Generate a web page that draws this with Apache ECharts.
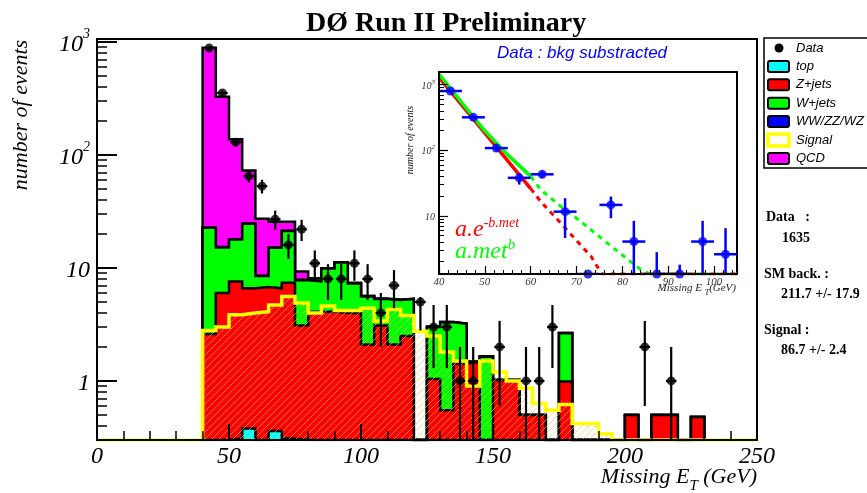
<!DOCTYPE html>
<html>
<head>
<meta charset="utf-8">
<title>DØ Run II Preliminary</title>
<script src="https://cdn.jsdelivr.net/npm/echarts@6/dist/echarts.min.js"></script>
<style>
html,body{margin:0;padding:0;background:#ffffff;}
#chart{width:867px;height:493px;}
</style>
</head>
<body>
<div id="chart"></div>
<script>
// ================= DATA =================
// Main plot: 5 GeV bins of missing E_T, lower edges + last upper edge
const binEdges = [40,45,50,55,60,65,70,75,80,85,90,95,100,105,110,115,120,125,130,135,140,145,150,155,160,165,170,175,180,185,190,195,200,205,210,215,220,225,230];
// Per-process expected events per bin (stack order: top, Z+jets, W+jets, WW/ZZ/WZ, QCD)
const topBkg    = [0,0,0.31,0.38,0,0.36,0.31,0,0,0,0,0,0,0,0,0,0,0,0,0,0,0,0,0,0,0,0,0,0,0,0,0,0,0,0,0,0,0];
const zJets     = [2.6,6.0,7.29,6.22,6.8,6.24,7.09,3.1,4.1,4.1,4.0,4.0,2.1,3.1,2.1,2.5,0,1.04,0.55,1.43,1.48,0,1.02,1.02,0.5,0.5,0,0.99,0,0,0,0,0.5,0,0.5,0.5,0,0.48];
const wJets     = [20.1,9.2,10.3,18.0,1.7,8.5,13.9,4.7,3.5,5.8,7.2,3.3,3.5,2.2,3.1,2.8,0,1.96,2.75,1.77,0,1.64,0,0,0,0,0,1.65,0,0,0,0,0,0,0,0,0,0];
const dibosons  = [0.15,0.1,0.1,0.15,0.05,0.1,0.1,0.05,0.05,0.05,0.05,0.05,0.05,0.03,0.03,0.03,0,0.02,0.02,0.02,0,0.01,0,0,0,0,0,0.01,0,0,0,0,0,0,0,0,0,0];
const qcdBkg    = [867,313,120,48,18.7,10.5,4.3,1.45,0.45,0,0,0,0,0,0,0,0,0,0,0,0,0,0,0,0,0,0,0,0,0,0,0,0,0,0,0,0,0];
const signalMC  = [2.8,3.0,3.85,4.0,4.1,4.7,5.6,4.9,4.0,4.6,4.2,4.2,4.4,3.4,4.3,3.8,2.75,2.5,1.8,1.5,0.9,1.5,1.2,1.0,0.86,0.63,0.55,0.62,0.42,0.42,0.34,0,0,0,0,0,0,0];

// Data points: bin centres, counts, error half-heights
const dataMet    = [42.5,47.5,52.5,57.5,62.5,67.5,72.5,77.5,82.5,87.5,92.5,97.5,102.5,107.5,112.5,122.5,127.5,132.5,137.5,142.5,152.5,162.5,167.5,172.5,207.5,217.5];
const dataCounts = [885,354,130,65,53,27,16,22,11,8,8,11,8,4,7,5,3,3,1,1,2,1,1,3,2,1];
const dataErrors = [30,19,11.4,8,7.3,5.2,4,4.7,3.3,2.8,2.8,3.3,2.8,2,2.6,2.2,1.7,1.7,1,1,1.4,1,1,1.7,1.4,1];
const dataMetHalfErr = 2;

// Inset: background-subtracted data
const insetMet    = [42.5,47.5,52.5,57.5,62.5,67.5,72.5,77.5,82.5,87.5,92.5,97.5,102.5];
const insetCounts = [800,318,108,38,43,11.6,0,14.7,4.06,0,0,4.06,2.6];
const insetUpper  = [830,338,120,45,48,18.6,0,19.7,8.4,2.8,1.8,8.4,6.5];
const insetLower  = [770,298,96,30,38,4.6,0,9.2,0,0,0,0,0];
const insetMetHalfErr = 2.5;

// Fit curves
const expFitSolid  = [[40,1290],[60,26]];
const expFitDashed = [[60,26],[62.2,16.5],[65.9,8.7],[69.5,4.6],[73.2,2.4],[75.5,1.3],[105,1.3]];
const powFitSolid  = [[40,1456],[45,530],[50,198],[55,85],[60,40]];
const powFitDashed = [[60,40],[62.2,25],[66.6,13.9],[69.5,9.8],[73.2,6.1],[76.8,3.8],[80.4,2.4],[84.1,1.5],[86,1.3],[105,1.3]];

// Tick values
const mainYMajor  = [1,10,100,1000];
const mainYMinor  = [0.3,0.4,0.5,0.6,0.7,0.8,0.9,2,3,4,5,6,7,8,9,20,30,40,50,60,70,80,90,200,300,400,500,600,700,800,900];
const insetYMajor = [10,100,1000];
const insetYMinor = [2,3,4,5,6,7,8,9,20,30,40,50,60,70,80,90,200,300,400,500,600,700,800,900];

// Legend and summary text
const legendNames = ['Data','top','Z+jets','W+jets','WW/ZZ/WZ','Signal','QCD'];
const summaryLines = ['Data   :','1635','SM back. :','211.7 +/- 17.9','Signal :','86.7 +/- 2.4'];

// ================= BUILD =================
const Y_MIN = 0.3, Y_MAX = 1064, X_MIN = 0, X_MAX = 250;
const IN_Y_MIN = 1.3, IN_Y_MAX = 1560;
const SERIF = '"Liberation Serif", "DejaVu Serif", serif';
const SANS = '"Liberation Sans", Arial, sans-serif';

function addArrays(...arrs) {
  return arrs[0].map((_, i) => arrs.reduce((s, a) => s + a[i], 0));
}
const cumTop = topBkg.slice();
const cumZ = addArrays(topBkg, zJets);
const cumW = addArrays(topBkg, zJets, wJets);
const cumWW = addArrays(topBkg, zJets, wJets, dibosons);
const cumQCD = addArrays(topBkg, zJets, wJets, dibosons, qcdBkg);

function histPoints(vals, floor) {
  const pts = [[binEdges[0], floor]];
  vals.forEach((v, i) => pts.push([binEdges[i], Math.max(v, floor)]));
  pts.push([binEdges[vals.length], floor]);
  return pts;
}

function makeHatch() {
  const c = document.createElement('canvas');
  c.width = 7; c.height = 7;
  const g = c.getContext('2d');
  g.strokeStyle = 'rgba(255,205,70,0.6)';
  g.lineWidth = 1;
  g.beginPath();
  g.moveTo(0, 7); g.lineTo(7, 0);
  g.moveTo(-2, 2); g.lineTo(2, -2);
  g.moveTo(5, 9); g.lineTo(9, 5);
  g.stroke();
  return c;
}
const hatch = makeHatch();

function stackSeries(name, vals, color, z) {
  return {
    name: name, type: 'line', xAxisIndex: 0, yAxisIndex: 0, step: 'end',
    symbol: 'none', data: histPoints(vals, Y_MIN), z: z, clip: true,
    lineStyle: { color: '#000', width: 2.5, join: 'miter' },
    areaStyle: { color: color, opacity: 1, origin: 'start' },
    silent: true
  };
}

const signalPts = [[X_MIN, Y_MIN]].concat(histPoints(signalMC, Y_MIN)).concat([[X_MAX, Y_MIN]]);

function errRender(color, width) {
  return function (params, api) {
    const x = api.value(0), y = api.value(1), lo = api.value(2), hi = api.value(3), xl = api.value(4), xh = api.value(5);
    const pLo = api.coord([x, lo]), pHi = api.coord([x, hi]);
    const pL = api.coord([xl, y]), pR = api.coord([xh, y]);
    const st = { stroke: color, lineWidth: width };
    const children = [{ type: 'line', shape: { x1: pL[0], y1: pL[1], x2: pR[0], y2: pR[1] }, style: st }];
    if (hi > lo) children.push({ type: 'line', shape: { x1: pLo[0], y1: pLo[1], x2: pHi[0], y2: pHi[1] }, style: st });
    return { type: 'group', children: children };
  };
}

const mainErrData = dataMet.map((x, i) => [
  x, dataCounts[i],
  Math.max(dataCounts[i] - dataErrors[i], Y_MIN),
  dataCounts[i] + dataErrors[i],
  x - dataMetHalfErr, x + dataMetHalfErr
]);
const insetErrData = insetMet.map((x, i) => [
  x, Math.max(insetCounts[i], IN_Y_MIN),
  Math.max(insetLower[i], IN_Y_MIN),
  Math.max(insetUpper[i], IN_Y_MIN),
  x - insetMetHalfErr, x + insetMetHalfErr
]);

function powLabel(v) {
  const e = Math.round(Math.log10(v));
  if (e === 0) return '{b|1}';
  if (e === 1) return '{b|10}';
  return '{b|10}{s|' + e + '}';
}

function fitLine(data, color, dashed, z) {
  return {
    type: 'line', xAxisIndex: 1, yAxisIndex: 2, data: data, symbol: 'none', z: z, clip: true,
    lineStyle: { color: color, width: dashed ? 3 : 3.5, type: dashed ? [5, 5] : 'solid' }, silent: true
  };
}

// Legend graphic
const legendColors = {
  'top': '#00ffff', 'Z+jets': '#ff0000', 'W+jets': '#00ff00', 'WW/ZZ/WZ': '#0000ff', 'QCD': '#ff00ff'
};
const legendGraphic = [{
  type: 'rect', z: 40, shape: { x: 764, y: 38, width: 112, height: 130 },
  style: { fill: '#fff', stroke: '#000', lineWidth: 1.5 }
}];
legendNames.forEach((nm, i) => {
  const cy = 48 + i * 18.4;
  if (nm === 'Data') {
    legendGraphic.push({ type: 'circle', z: 41, shape: { cx: 779, cy: cy, r: 4.5 }, style: { fill: '#000' } });
  } else if (nm === 'Signal') {
    legendGraphic.push({ type: 'rect', z: 41, shape: { x: 768, y: cy - 6, width: 21, height: 12 },
      style: { fill: '#fff', stroke: '#ffff00', lineWidth: 3.5 } });
  } else {
    legendGraphic.push({ type: 'rect', z: 41, shape: { x: 768, y: cy - 5.5, width: 21, height: 11, r: 2 },
      style: { fill: legendColors[nm], stroke: '#000', lineWidth: 2 } });
  }
  legendGraphic.push({ type: 'text', z: 41, x: 796, y: cy,
    style: { text: nm, fontFamily: SANS, fontStyle: 'italic', fontSize: 13, fill: '#000', align: 'left', verticalAlign: 'middle' } });
});

const summaryPos = [[766, 217], [782, 238], [764, 274], [781, 294], [764, 330], [781, 350]];
const summaryGraphic = summaryLines.map((t, i) => ({
  type: 'text', z: 41, x: summaryPos[i][0], y: summaryPos[i][1],
  style: { text: t, fontFamily: SERIF, fontWeight: 'bold', fontSize: 14, fill: '#000', align: 'left', verticalAlign: 'middle' }
}));

const otherGraphic = [
  // inset pad background
  { type: 'rect', z: 15, shape: { x: 404, y: 40, width: 346, height: 257 }, style: { fill: '#fff' } },
  { type: 'text', z: 30, x: 582, y: 53,
    style: { text: 'Data : bkg substracted', fontFamily: SANS, fontStyle: 'italic', fontSize: 17, fill: '#0000ff', align: 'center', verticalAlign: 'middle' } },
  { type: 'text', z: 30, x: 455, y: 216,
    style: { text: '{m|a.e}{s|-b.met}', align: 'left', verticalAlign: 'top',
      rich: {
        m: { fontFamily: SERIF, fontStyle: 'italic', fontSize: 24, lineHeight: 26, verticalAlign: 'bottom', fill: '#ff0000' },
        s: { fontFamily: SERIF, fontStyle: 'italic', fontSize: 14, lineHeight: 12, verticalAlign: 'top', fill: '#ff0000' }
      } } },
  { type: 'text', z: 30, x: 455, y: 238,
    style: { text: '{m|a.met}{s|b}', align: 'left', verticalAlign: 'top',
      rich: {
        m: { fontFamily: SERIF, fontStyle: 'italic', fontSize: 24, lineHeight: 26, verticalAlign: 'bottom', fill: '#00ff00' },
        s: { fontFamily: SERIF, fontStyle: 'italic', fontSize: 15, lineHeight: 12, verticalAlign: 'top', fill: '#00ff00' }
      } } },
  { type: 'text', z: 30, x: 736, y: 283,
    style: { text: '{m|Missing E }{t|T}{m|(GeV)}', align: 'right', verticalAlign: 'top',
      rich: {
        m: { fontFamily: SERIF, fontStyle: 'italic', fontSize: 11, lineHeight: 11, verticalAlign: 'top', fill: '#222' },
        t: { fontFamily: SERIF, fontStyle: 'italic', fontSize: 8, padding: [6, 0, 0, 0], verticalAlign: 'top', fill: '#222' }
      } } },
  { type: 'text', z: 30, x: 410, y: 140, rotation: Math.PI / 2,
    style: { text: 'number of events', fontFamily: SERIF, fontStyle: 'italic', fontSize: 10, fill: '#222', align: 'center', verticalAlign: 'middle' } },
  // main axis titles
  { type: 'text', z: 30, x: 21, y: 115, rotation: Math.PI / 2,
    style: { text: 'number of events', fontFamily: SERIF, fontStyle: 'italic', fontSize: 22, fill: '#000', align: 'center', verticalAlign: 'middle' } },
  { type: 'text', z: 30, x: 757, y: 466,
    style: { text: '{m|Missing E}{t|T}{m| (GeV)}', align: 'right', verticalAlign: 'top',
      rich: {
        m: { fontFamily: SERIF, fontStyle: 'italic', fontSize: 22, lineHeight: 22, verticalAlign: 'top', fill: '#000' },
        t: { fontFamily: SERIF, fontStyle: 'italic', fontSize: 15, padding: [13, 0, 0, 0], verticalAlign: 'top', fill: '#000' }
      } } }
];

const option = {
  animation: false,
  backgroundColor: '#ffffff',
  title: {
    text: 'DØ Run II Preliminary', left: 301, top: 5,
    textStyle: { fontFamily: SERIF, fontWeight: 'bold', fontSize: 28, color: '#000' }
  },
  grid: [
    { left: 97, top: 39, width: 660, height: 401, show: true, borderColor: '#000', borderWidth: 2, backgroundColor: 'transparent', containLabel: false },
    { left: 439, top: 72, width: 298, height: 202, show: true, borderColor: '#000', borderWidth: 2, backgroundColor: '#fff', containLabel: false, z: 20 }
  ],
  xAxis: [
    { type: 'value', gridIndex: 0, min: X_MIN, max: X_MAX, interval: 50, z: 10,
      axisLine: { onZero: false, lineStyle: { color: '#000', width: 2 } },
      axisTick: { inside: true, length: 16, lineStyle: { color: '#000', width: 2 } },
      minorTick: { show: true, splitNumber: 5, length: 9, lineStyle: { color: '#000', width: 1.5 } },
      axisLabel: { fontFamily: SERIF, fontStyle: 'italic', fontSize: 24, color: '#000', margin: 5, showMinLabel: true, showMaxLabel: true },
      splitLine: { show: false }, minorSplitLine: { show: false } },
    { type: 'value', gridIndex: 1, min: 40, max: 105, interval: 10, z: 25,
      axisLine: { onZero: false, lineStyle: { color: '#000', width: 2 } },
      axisTick: { inside: true, length: 8, lineStyle: { color: '#000', width: 1.2 } },
      minorTick: { show: true, splitNumber: 5, length: 4, lineStyle: { color: '#000', width: 1 } },
      axisLabel: { fontFamily: SERIF, fontStyle: 'italic', fontSize: 11, color: '#333', margin: 3, showMaxLabel: false },
      splitLine: { show: false } }
  ],
  yAxis: [
    { type: 'log', logBase: 10, gridIndex: 0, min: Y_MIN, max: Y_MAX, position: 'left', z: 10,
      axisLine: { show: true, onZero: false, lineStyle: { color: '#000', width: 2 } },
      axisTick: { show: true, inside: true, length: 20, customValues: mainYMajor, lineStyle: { color: '#000', width: 2 } },
      axisLabel: { customValues: mainYMajor, formatter: powLabel, margin: 7,
        rich: {
          b: { fontFamily: SERIF, fontStyle: 'italic', fontSize: 24, lineHeight: 30, verticalAlign: 'bottom', color: '#000' },
          s: { fontFamily: SERIF, fontStyle: 'italic', fontSize: 14, lineHeight: 14, verticalAlign: 'top', color: '#000' }
        } },
      splitLine: { show: false } },
    { type: 'log', logBase: 10, gridIndex: 0, min: Y_MIN, max: Y_MAX, position: 'left', z: 10,
      axisLine: { show: false },
      axisTick: { show: true, inside: true, length: 10, customValues: mainYMinor, lineStyle: { color: '#000', width: 1.5 } },
      axisLabel: { show: false }, splitLine: { show: false } },
    { type: 'log', logBase: 10, gridIndex: 1, min: IN_Y_MIN, max: IN_Y_MAX, position: 'left', z: 25,
      axisLine: { show: true, onZero: false, lineStyle: { color: '#000', width: 2 } },
      axisTick: { show: true, inside: true, length: 9, customValues: insetYMajor, lineStyle: { color: '#000', width: 1.2 } },
      axisLabel: { customValues: insetYMajor, formatter: powLabel, margin: 4,
        rich: {
          b: { fontFamily: SERIF, fontStyle: 'italic', fontSize: 10, lineHeight: 13, verticalAlign: 'bottom', color: '#333' },
          s: { fontFamily: SERIF, fontStyle: 'italic', fontSize: 7, lineHeight: 7, verticalAlign: 'top', color: '#333' }
        } },
      splitLine: { show: false } },
    { type: 'log', logBase: 10, gridIndex: 1, min: IN_Y_MIN, max: IN_Y_MAX, position: 'left', z: 25,
      axisLine: { show: false },
      axisTick: { show: true, inside: true, length: 5, customValues: insetYMinor, lineStyle: { color: '#000', width: 1 } },
      axisLabel: { show: false }, splitLine: { show: false } }
  ],
  series: [
    stackSeries('QCD', cumQCD, '#ff00ff', 2),
    stackSeries('WW/ZZ/WZ', cumWW, '#0000ff', 3),
    stackSeries('W+jets', cumW, '#00ff00', 4),
    stackSeries('Z+jets', cumZ, '#ff0000', 5),
    stackSeries('top', cumTop, '#00ffff', 6),
    {
      name: 'Signal', type: 'line', xAxisIndex: 0, yAxisIndex: 0, step: 'end', symbol: 'none',
      data: signalPts, z: 7, clip: true, silent: true,
      lineStyle: { color: '#ffff00', width: 3.5, join: 'miter' },
      areaStyle: { color: { image: hatch, repeat: 'repeat' }, opacity: 1, origin: 'start' }
    },
    {
      name: 'Data errors', type: 'custom', xAxisIndex: 0, yAxisIndex: 0, coordinateSystem: 'cartesian2d',
      renderItem: errRender('#000', 2.2), data: mainErrData, encode: { x: 0, y: 1 }, z: 8, clip: true, silent: true
    },
    {
      name: 'Data', type: 'scatter', xAxisIndex: 0, yAxisIndex: 0, symbol: 'circle', symbolSize: 9,
      itemStyle: { color: '#000' }, data: dataMet.map((x, i) => [x, dataCounts[i]]), z: 9, silent: true
    },
    fitLine(expFitSolid, '#ff0000', false, 22),
    fitLine(expFitDashed, '#ff0000', true, 22),
    fitLine(powFitSolid, '#00ff00', false, 23),
    fitLine(powFitDashed, '#00ff00', true, 23),
    {
      name: 'Inset errors', type: 'custom', xAxisIndex: 1, yAxisIndex: 2, coordinateSystem: 'cartesian2d',
      renderItem: errRender('#0000ff', 2.5), data: insetErrData, encode: { x: 0, y: 1 }, z: 24, clip: true, silent: true
    },
    {
      name: 'Inset data', type: 'scatter', xAxisIndex: 1, yAxisIndex: 2, symbol: 'circle', symbolSize: 9,
      itemStyle: { color: '#0000ff' }, data: insetErrData.map(r => [r[0], r[1]]), z: 24, silent: true
    }
  ],
  graphic: otherGraphic.concat(legendGraphic).concat(summaryGraphic)
};

const chart = echarts.init(document.getElementById('chart'), null, { renderer: 'canvas' });
chart.setOption(option);
</script>
</body>
</html>
